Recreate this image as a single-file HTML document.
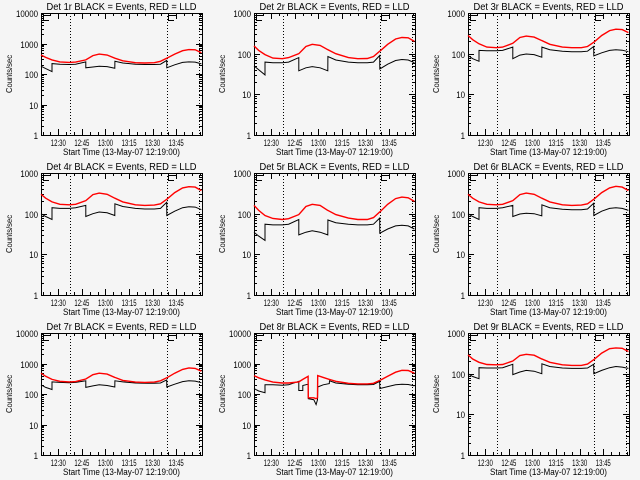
<!DOCTYPE html>
<html><head><meta charset="utf-8"><style>
html,body{margin:0;padding:0;background:#f5f5f5}
svg{display:block}
text{font-family:"Liberation Sans",sans-serif;fill:#000}
</style></head><body>
<svg id="c" width="640" height="480" viewBox="0 0 640 480"></svg>
<script>
// Shared knot times (minutes after 12:19:00)
const times = [0,3,7,7.01,12,18,22,28.5,28.51,33,37,42,46.9,47,52,60,66,72,76,79.9,80,85,90,94,98,102];
const times8 = [0,3,7,7.01,12,18,22,28.5,28.51,31,31.01,34.4,34.5,38,39.5,40.4,40.5,44,47.9,48,52,60,66,72,76,79.9,80,85,90,94,98,102];
const detectors = ["1r","2r","3r","4r","5r","6r","7r","8r","9r"];
const yMaxDecade = [4,3,3,3,3,3,4,4,3];
const red1 = [420,350,290,290,250,240,245,290,290,400,450,420,330,330,270,235,230,235,260,330,330,450,580,630,620,500];
const black1 = [180,150,120,220,210,205,210,250,160,170,180,175,155,260,230,210,205,205,210,280,160,200,240,250,245,215];
const red2 = [155,120,95,95,78,75,80,100,100,150,170,160,125,125,100,80,75,76,85,115,115,170,230,250,245,200];
const black2 = [50,40,30,62,60,60,62,80,38,45,48,45,38,85,70,62,60,60,62,90,42,55,68,72,70,60];
const red3 = [280,220,175,175,145,140,145,180,180,250,270,255,210,210,170,145,140,140,150,190,190,280,370,400,390,330];
const black3 = [90,75,65,120,118,118,120,145,75,92,98,95,82,145,125,115,112,112,115,150,88,105,120,125,122,112];
const red4 = [300,240,195,195,170,165,170,210,210,295,320,300,240,240,195,165,160,162,175,225,225,330,430,460,450,370];
const black4 = [100,85,72,140,135,135,140,160,85,100,110,105,90,175,150,135,130,130,135,190,90,115,140,148,145,125];
const red5 = [160,120,90,90,76,72,75,95,95,150,170,160,120,120,95,78,72,72,80,110,110,170,235,255,245,200];
const black5 = [35,28,22,55,53,53,55,72,30,35,38,35,30,70,60,55,53,53,55,78,33,42,50,52,50,42];
const red6 = [300,240,195,195,170,165,170,210,210,295,320,300,240,240,195,165,160,162,175,225,225,330,430,470,450,370];
const black6 = [100,85,72,140,135,135,140,160,85,98,102,100,88,165,140,128,125,125,130,180,90,115,135,140,135,120];
const red7 = [480,380,300,300,260,250,255,310,310,430,480,450,350,350,280,245,240,245,270,340,340,480,640,720,690,560];
const black7 = [200,165,140,250,240,235,240,270,165,185,200,190,170,270,250,230,225,225,230,290,170,210,255,270,265,235];
const red8 = [400,340,290,290,245,230,230,250,250,300,300,380,75,75,70,75,400,350,300,300,260,225,215,215,225,280,280,380,520,600,590,480];
const black8 = [150,125,110,200,200,195,200,260,130,130,190,210,70,65,45,65,170,200,220,270,230,210,200,200,205,260,150,175,200,210,205,185];
const red9 = [290,230,190,190,168,165,168,205,205,280,300,285,230,230,190,165,160,160,172,220,220,320,410,430,420,350];
const black9 = [100,85,75,140,138,138,140,170,95,110,120,115,100,175,150,138,135,135,138,170,100,120,140,150,145,135];
const redSeries = [red1,red2,red3,red4,red5,red6,red7,red8,red9];
const blackSeries = [black1,black2,black3,black4,black5,black6,black7,black8,black9];
const xTickLabels = ["12:30","12:45","13:00","13:15","13:30","13:45"];
const xTickMinutes = [11,26,41,56,71,86];
const markerTimes = [18.2,80,100.5];

const NS="http://www.w3.org/2000/svg";
const svg=document.getElementById('c');
function mk(tag,attrs,parent){const e=document.createElementNS(NS,tag);for(const k in attrs)e.setAttribute(k,attrs[k]);(parent||svg).appendChild(e);return e;}

for(let p=0;p<9;p++){
  const col=p%3,row=Math.floor(p/3);
  const L=Math.round(col*213.33)+41,R=L+161,T=row*160+13,B=T+122;
  const dmax=yMaxDecade[p];
  const tMax=161/1.573;
  const xs=t=>L+t*(R-L)/tMax;
  const ys=v=>B-Math.log10(Math.max(v,1))*(B-T)/dmax;
  const g=mk('g',{});
  
  
  const title=mk('text',{x:(L+R)/2,y:T-3,'font-size':'10','text-anchor':'middle',textLength:150,lengthAdjust:'spacingAndGlyphs'},g);
  title.textContent='Det '+detectors[p]+' BLACK = Events, RED = LLD';
  
  
  const box=mk('rect',{x:L+0.5,y:T+0.5,width:R-L,height:B-T,fill:'none',stroke:'#000','stroke-width':1},g);
  
  
  for(let d=0;d<=dmax;d++){
    const y=Math.round(ys(Math.pow(10,d)))+0.5;
    mk('line',{x1:L,x2:L+6,y1:y,y2:y,stroke:'#000'},g);
    mk('line',{x1:R-6,x2:R,y1:y,y2:y,stroke:'#000'},g);
    const s=String(Math.pow(10,d));
    const lab=mk('text',{x:L-3,y:y+3.5,'font-size':'9','text-anchor':'end',textLength:s.length*4.4,lengthAdjust:'spacingAndGlyphs'},g);
    lab.textContent=s;
    
    
    if(d<dmax)for(let m=2;m<10;m++){
      const ym=Math.round(ys(m*Math.pow(10,d)))+0.5;
      mk('line',{x1:L,x2:L+3,y1:ym,y2:ym,stroke:'#000'},g);
      mk('line',{x1:R-3,x2:R,y1:ym,y2:ym,stroke:'#000'},g);
    }
  }
  const yt=mk('text',{x:0,y:0,'font-size':'8.5','text-anchor':'middle',textLength:38,lengthAdjust:'spacingAndGlyphs',transform:`translate(${L-29},${(T+B)/2}) rotate(-90)`},g);
  yt.textContent='Counts/sec';
  
  
  for(let m=1;m<tMax;m+=5){
    const x=Math.round(xs(m))+0.5;
    const major=xTickMinutes.indexOf(m)>=0;
    const len=major?6:3;
    mk('line',{x1:x,x2:x,y1:B,y2:B-len,stroke:'#000'},g);
    mk('line',{x1:x,x2:x,y1:T,y2:T+len,stroke:'#000'},g);
  }
  xTickLabels.forEach((s,i)=>{
    const lab=mk('text',{x:xs(xTickMinutes[i]),y:B+11,'font-size':'9','text-anchor':'middle',textLength:15,lengthAdjust:'spacingAndGlyphs'},g);
    lab.textContent=s;
    
    
  });
  const xt=mk('text',{x:(L+R)/2,y:B+20,'font-size':'9','text-anchor':'middle',textLength:117,lengthAdjust:'spacingAndGlyphs'},g);
  xt.textContent='Start Time (13-May-07 12:19:00)';
  
  
  markerTimes.forEach(t=>{
    const x=Math.round(xs(t))+0.5;
    const ln=mk('line',{x1:x,x2:x,y1:T,y2:B,stroke:'#000','stroke-dasharray':'1,2'},g);
    
    
  });
  [L+2,Math.round(xs(markerTimes[1]))+1].forEach(x=>{
    const br=mk('path',{d:`M${x+0.5},${T} V${T+8} M${x},${T+2.5} H${x+8} M${x},${T+7.5} H${x+6}`,stroke:'#000',fill:'none'},g);
    
    
  });
  const tt=p===7?times8:times;
  const mkPath=(arr)=>arr.map((v,i)=>(i?'L':'M')+xs(tt[i]).toFixed(1)+','+ys(v).toFixed(1)).join(' ');
  const bl=mk('path',{d:mkPath(blackSeries[p]),stroke:'#000','stroke-width':1,fill:'none'},g);
  
  
  const rl=mk('path',{d:mkPath(redSeries[p]),stroke:'#ff0000','stroke-width':1.4,fill:'none'},g);
  
  
}
</script>
</body></html>
